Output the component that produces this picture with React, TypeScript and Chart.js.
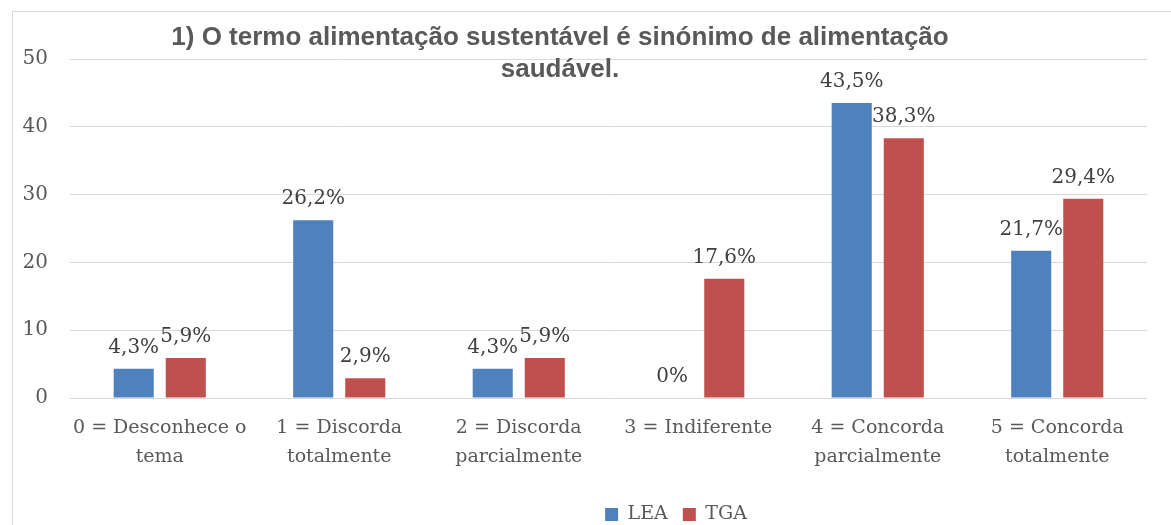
import React, { useEffect, useRef } from "react";
import { Chart, registerables } from "chart.js";

Chart.register(...registerables);

const categories = [
  ["0 = Desconhece o", "tema"],
  ["1 = Discorda", "totalmente"],
  ["2 = Discorda", "parcialmente"],
  ["3 = Indiferente"],
  ["4 = Concorda", "parcialmente"],
  ["5 = Concorda", "totalmente"],
];
const leaValues = [4.3, 26.2, 4.3, 0, 43.5, 21.7];
const tgaValues = [5.9, 2.9, 5.9, 17.6, 38.3, 29.4];
const leaLabels = ["4,3%", "26,2%", "4,3%", "0%", "43,5%", "21,7%"];
const tgaLabels = ["5,9%", "2,9%", "5,9%", "17,6%", "38,3%", "29,4%"];
const seriesNames = ["LEA", "TGA"];
const titleLines = [
  "1) O termo alimentação sustentável é sinónimo de alimentação",
  "saudável.",
];
const yMin = 0;
const yMax = 50;
const yStep = 10;

const SERIF = "'DejaVu Serif', serif";
const TEXT = "#595959";

export default function App() {
  const ref = useRef<HTMLCanvasElement | null>(null);

  useEffect(() => {
    if (!ref.current) return;
    const allLabels = [leaLabels, tgaLabels];

    const titlePlugin = {
      id: "customTitle",
      afterDraw(chart: any) {
        const ctx = chart.ctx;
        ctx.save();
        ctx.font = "bold 26px 'Liberation Sans', Arial, sans-serif";
        ctx.fillStyle = TEXT;
        ctx.textAlign = "center";
        ctx.textBaseline = "middle";
        ctx.fillText(titleLines[0], 547, 26);
        ctx.fillText(titleLines[1], 547, 58);
        ctx.restore();
      },
    };

    const dataLabelPlugin = {
      id: "dataLabels",
      afterDatasetsDraw(chart: any) {
        const ctx = chart.ctx;
        ctx.save();
        ctx.font = `20px ${SERIF}`;
        ctx.fillStyle = "#404040";
        ctx.textAlign = "center";
        ctx.textBaseline = "alphabetic";
        chart.data.datasets.forEach((ds: any, di: number) => {
          const meta = chart.getDatasetMeta(di);
          meta.data.forEach((el: any, i: number) => {
            ctx.fillText(allLabels[di][i], el.x, el.y - 16);
          });
        });
        ctx.restore();
      },
    };

    const chart = new Chart(ref.current, {
      type: "bar",
      data: {
        labels: categories,
        datasets: [
          {
            label: seriesNames[0],
            data: leaValues,
            backgroundColor: "#4F81BD",
            borderWidth: 0,
            categoryPercentage: 0.58,
            barPercentage: 0.77,
          },
          {
            label: seriesNames[1],
            data: tgaValues,
            backgroundColor: "#C0504D",
            borderWidth: 0,
            categoryPercentage: 0.58,
            barPercentage: 0.77,
          },
        ],
      },
      options: {
        animation: false,
        responsive: true,
        maintainAspectRatio: false,
        layout: { padding: { top: 47, left: 0, right: 0, bottom: 0 } },
        plugins: {
          title: { display: false },
          tooltip: { enabled: false },
          legend: {
            position: "bottom",
            labels: {
              boxWidth: 13,
              boxHeight: 13,
              padding: 15,
              color: TEXT,
              font: { family: SERIF, size: 19 },
            },
          },
        },
        scales: {
          x: {
            grid: { display: false, drawTicks: false },
            border: { display: false },
            ticks: {
              color: TEXT,
              font: { family: SERIF, size: 19, lineHeight: 1.5 },
              padding: 16,
              maxRotation: 0,
              autoSkip: false,
            },
            afterFit: (s: any) => {
              s.height = 92;
            },
          },
          y: {
            min: yMin,
            max: yMax,
            ticks: {
              stepSize: yStep,
              color: TEXT,
              font: { family: SERIF, size: 20 },
              padding: 22,
            },
            grid: { color: "#d9d9d9", lineWidth: 1, drawTicks: false },
            border: { display: false },
            afterFit: (s: any) => {
              s.width = 57;
            },
          },
          yRight: {
            position: "right",
            display: true,
            grid: { display: false, drawTicks: false },
            border: { display: false },
            ticks: { display: false },
            afterFit: (s: any) => {
              s.width = 192;
            },
          },
        },
      },
      plugins: [titlePlugin, dataLabelPlugin],
    } as any);

    return () => chart.destroy();
  }, []);

  return (
    <div
      style={{
        position: "fixed",
        inset: 0,
        overflow: "hidden",
        background: "#ffffff",
      }}
    >
      <div
        style={{
          position: "absolute",
          left: 12,
          top: 11,
          width: 1326,
          height: 522,
          border: "1px solid #d9d9d9",
          background: "#ffffff",
        }}
      >
        <canvas ref={ref} />
      </div>
    </div>
  );
}
